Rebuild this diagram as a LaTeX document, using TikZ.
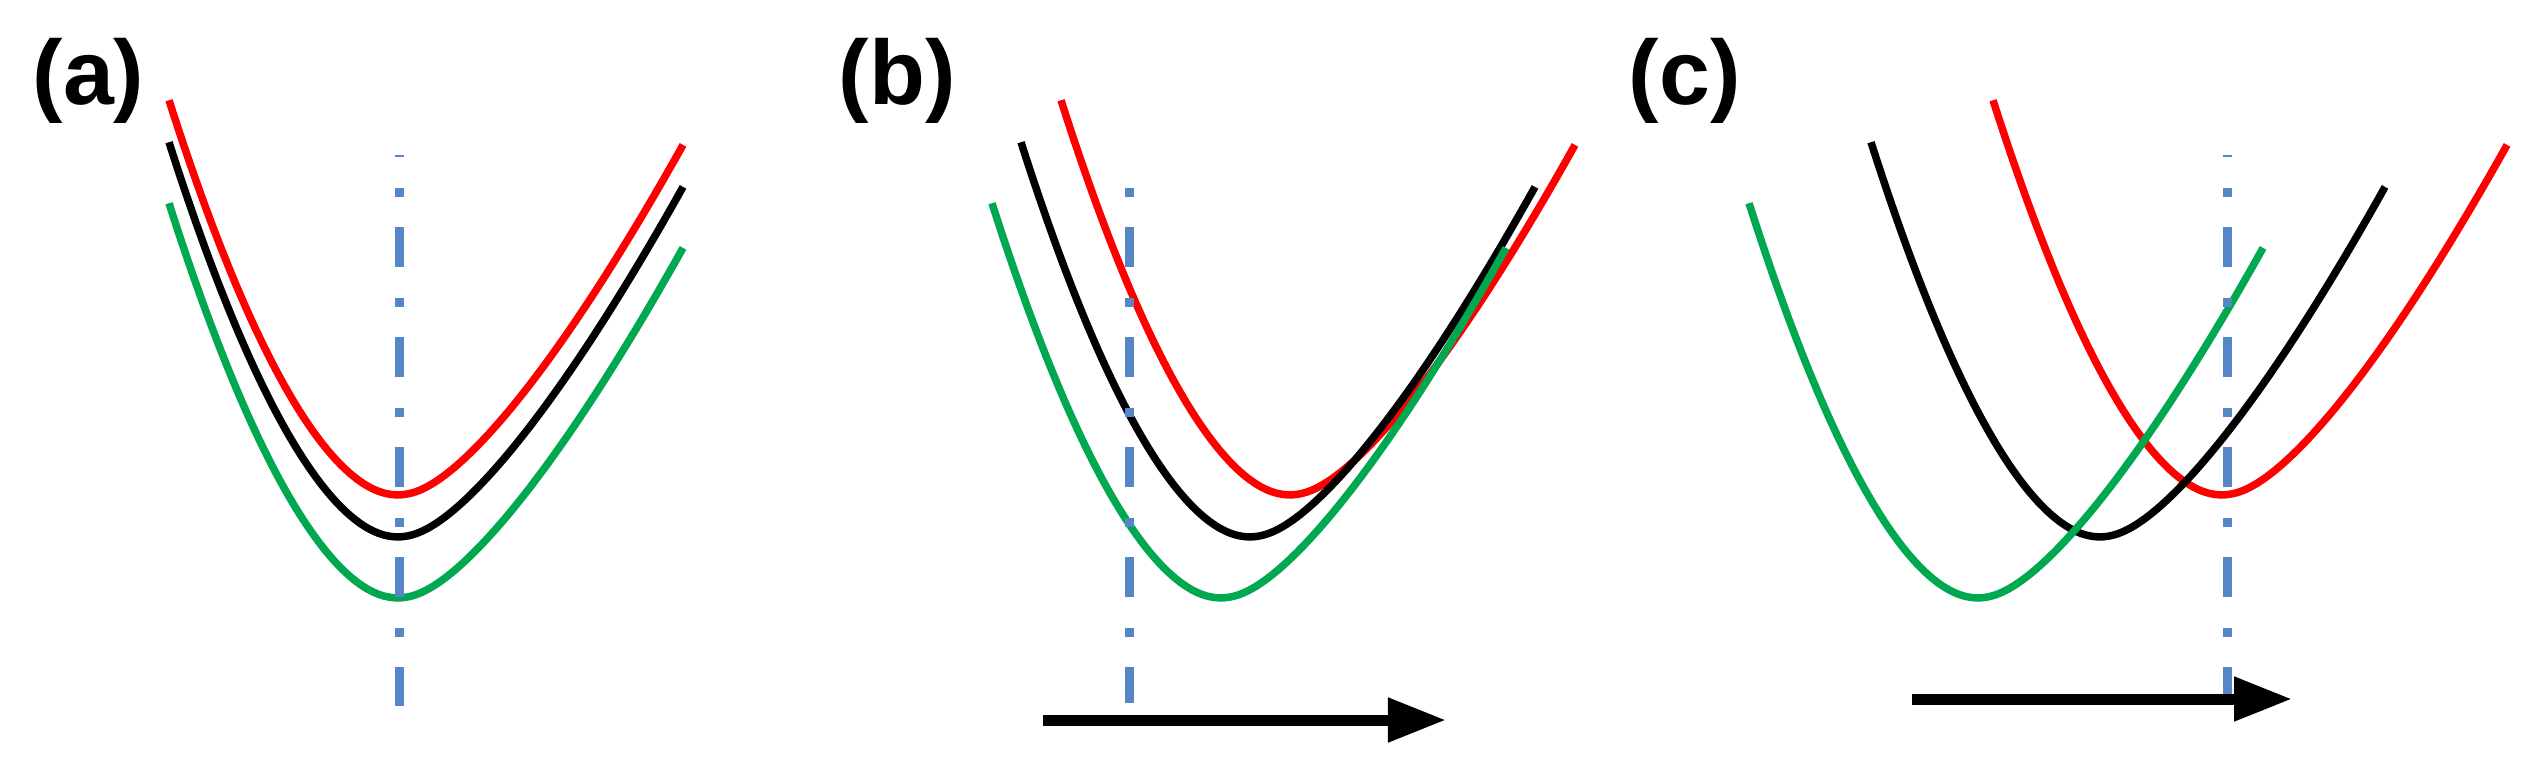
\documentclass[tikz,border=0pt]{standalone}
\usepackage{fontspec}
\setmainfont{Liberation Sans}
\usetikzlibrary{arrows.meta}
\definecolor{cred}{RGB}{255,0,0}
\definecolor{cgreen}{RGB}{0,168,80}
\definecolor{cblue}{RGB}{85,135,198}
\tikzset{
  curve/.style={line width=0.075cm},
  axisline/.style={cblue,line width=0.09cm,dash pattern=on 0.40cm off 0.31cm on 0.09cm off 0.30cm},
  shiftarrow/.style={line width=0.11cm,-{Triangle[length=0.58cm,width=0.42cm]}},
  panellabel/.style={anchor=base west,inner sep=0pt,font=\fontsize{26}{31}\selectfont\bfseries}
}
\newcommand\wellcurve[3]{%
  \draw[curve,#3] plot[domain=-229:0,samples=80] ({#1+\x},{#2-91.2*(pow((\x/100)^2+0.16,0.8945)-0.194)})
    -- plot[domain=0:285,samples=80] ({#1+\x},{#2-86.3*(pow((\x/100)^2+0.16,0.694)-0.280)});
}
\begin{document}
\begin{tikzpicture}[x=0.01cm,y=-0.01cm]
\useasboundingbox (0,0) rectangle (2528,769);
% labels
\node[panellabel] (la) at (32,104) {(a)};
\node[panellabel] (lb) at (838,104) {(b)};
\node[panellabel] (lc) at (1628,104) {(c)};
% panel (a)
\wellcurve{398}{495}{cred}
\wellcurve{398}{537}{black}
\wellcurve{398}{598}{cgreen}
% panel (b)
\wellcurve{1290}{495}{cred}
\wellcurve{1250}{537}{black}
\wellcurve{1221}{598}{cgreen}
% panel (c)
\wellcurve{2222}{495}{cred}
\wellcurve{2100}{537}{black}
\wellcurve{1978}{598}{cgreen}
% dash-dot lines
\coordinate (da1) at (399,155);  \coordinate (da2) at (399,706);
\coordinate (db1) at (1129,188); \coordinate (db2) at (1129,703);
\coordinate (dc1) at (2227,155); \coordinate (dc2) at (2227,700);
\draw[axisline,dash phase=0.38cm] (da1) -- (da2);
\draw[axisline,dash phase=0.71cm] (db1) -- (db2);
\draw[axisline,dash phase=0.38cm] (dc1) -- (dc2);
% arrows
\coordinate (ab1) at (1043,720); \coordinate (ab2) at (1446,720);
\coordinate (ac1) at (1912,699); \coordinate (ac2) at (2292,699);
\draw[shiftarrow] (ab1) -- (ab2);
\draw[shiftarrow] (ac1) -- (ac2);
\end{tikzpicture}
\end{document}
